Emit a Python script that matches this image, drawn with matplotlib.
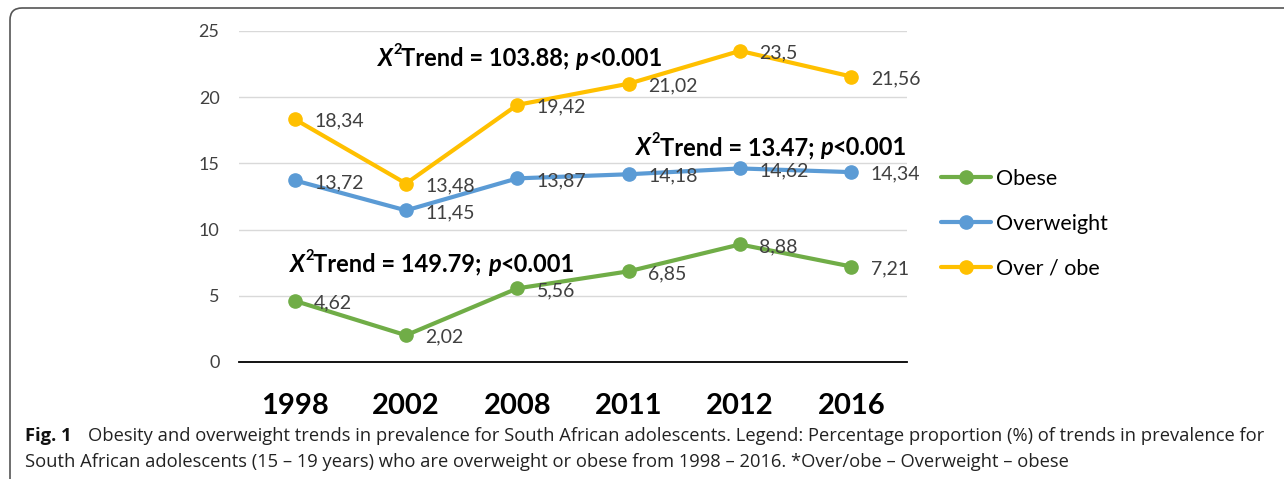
import matplotlib
matplotlib.use('Agg')
from matplotlib import pyplot as plt
from matplotlib.patches import FancyBboxPatch
from matplotlib.transforms import IdentityTransform

# data
years = ["1998", "2002", "2008", "2011", "2012", "2016"]
obese = [4.62, 2.02, 5.56, 6.85, 8.88, 7.21]
overweight = [13.72, 11.45, 13.87, 14.18, 14.62, 14.34]
over_obe = [18.34, 13.48, 19.42, 21.02, 23.5, 21.56]
series_names = ["Obese", "Overweight", "Over / obe"]
trend_texts = [("103.88", 0.75, 22.95), ("13.47", 3.07, 16.2), ("149.79", -0.04, 7.4)]

colors = ["#70AD47", "#5B9BD5", "#FFC000"]
lab_col = "#404040"
plt.rcParams['font.family'] = ['Lato', 'DejaVu Sans']

W, H = 1284, 479
fig = plt.figure(figsize=(W / 100, H / 100), dpi=100)
ax = fig.add_axes([239 / W, 117 / H, 668 / W, 331 / H])

x = list(range(len(years)))
for vals, name, c in zip([obese, overweight, over_obe], series_names, colors):
    ax.plot(x, vals, color=c, lw=3, marker='o', ms=9.5, label=name, solid_capstyle='round')
    for xi, v in zip(x, vals):
        ax.annotate(f"{v:g}".replace(".", ","), (xi, v), xytext=(14, -1.5), textcoords='offset points',
                    ha='left', va='center', fontsize=14, color=lab_col, annotation_clip=False)

ax.set_xlim(-0.5, 5.5)
ax.set_ylim(0, 25)
ax.set_yticks(range(0, 26, 5))
ax.set_xticks(x)
ax.set_xticklabels(years, fontsize=21, fontweight='bold')
ax.tick_params(axis='x', length=0, pad=22)
ax.tick_params(axis='y', length=0, pad=14, labelsize=13, labelcolor=lab_col)
ax.grid(axis='y', color='#D9D9D9', lw=1)
ax.set_axisbelow(True)
for s in ['top', 'right', 'left']:
    ax.spines[s].set_visible(False)
ax.spines['bottom'].set_color('black')
ax.spines['bottom'].set_linewidth(1.3)


def trend_label(val, xd, yd):
    fs = 17
    t1 = ax.text(xd, yd, "X", fontsize=fs, fontweight='bold', style='italic', va='center', ha='left')
    t2 = ax.annotate("2", xy=(1, 0.55), xycoords=t1, fontsize=10.5, fontweight='bold', va='bottom', ha='left')
    t3 = ax.annotate(f"Trend = {val}; ", xy=(1, 0), xycoords=(t2, t1), fontsize=fs, fontweight='bold',
                     va='bottom', ha='left')
    t4 = ax.annotate("p", xy=(1, 0), xycoords=t3, fontsize=fs, fontweight='bold', style='italic',
                     va='bottom', ha='left')
    ax.annotate("<0.001", xy=(1, 0), xycoords=t4, fontsize=fs, fontweight='bold', va='bottom', ha='left')


for val, xd, yd in trend_texts:
    trend_label(val, xd, yd)

fig.legend(loc='upper left', bbox_to_anchor=(941 / W, 1 - 169 / H), frameon=False, fontsize=15.5,
           handlelength=2.3, handletextpad=0.25, labelspacing=1.15, borderpad=0, borderaxespad=0)

# caption
cap_kw = dict(fontsize=13.2, va='center', ha='left', family='Open Sans')
fig.text(25 / W, 1 - 436 / H, "Fig. 1", fontweight='bold', color='#111111', **cap_kw)
fig.text(88 / W, 1 - 436 / H, "Obesity and overweight trends in prevalence for South African adolescents. "
         "Legend: Percentage proportion (%) of trends in prevalence for", color='#222222', **cap_kw)
fig.text(25 / W, 1 - 462 / H, "South African adolescents (15 \u2013 19 years) who are overweight or obese "
         "from 1998 \u2013 2016. *Over/obe \u2013 Overweight \u2013 obese", color='#222222', **cap_kw)

# frame around the figure
box = FancyBboxPatch((10, -20), 1320, 491, boxstyle="round,pad=0,rounding_size=12",
                     transform=IdentityTransform(), fill=False, ec='#555555', lw=1.2)
fig.patches.append(box)

fig.savefig("out.png", dpi=100)
